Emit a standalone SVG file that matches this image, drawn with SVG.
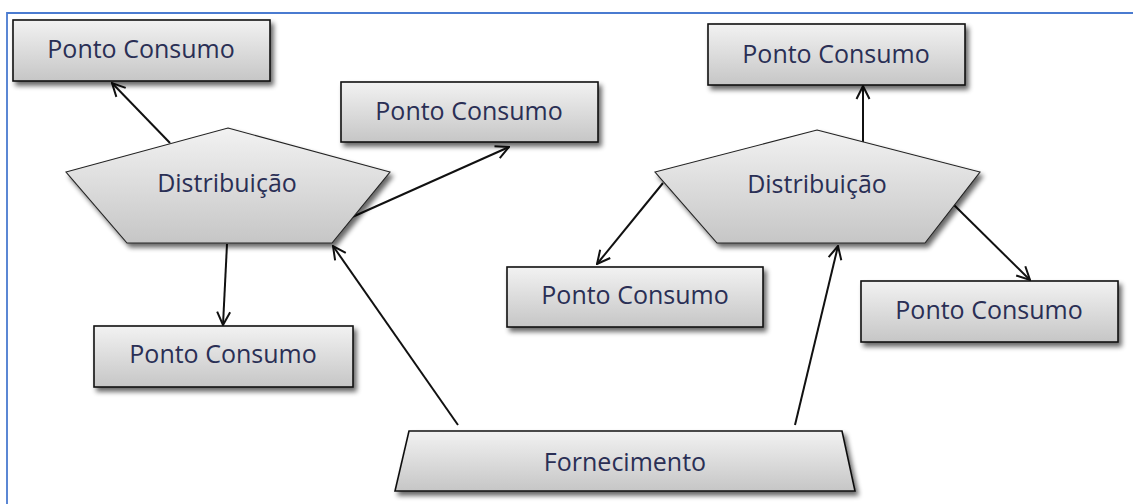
<svg xmlns="http://www.w3.org/2000/svg" width="1133" height="504" viewBox="0 0 1133 504">
<style>
.shape{fill:url(#g);stroke:#111;stroke-width:1.6;filter:url(#sh)}
.pent{fill:url(#g);stroke:#222;stroke-width:1.1;filter:url(#sh)}
.lbl{font-family:"Open Sans","Noto Sans",sans-serif;font-size:25px;fill:#2a2f55;text-anchor:middle}
.con{stroke:#111;stroke-width:2;fill:none;marker-end:url(#ah)}
</style>
<defs>
<linearGradient id="g" x1="0" y1="0" x2="0" y2="1">
<stop offset="0" stop-color="#f2f2f2"/>
<stop offset="1" stop-color="#c6c6c6"/>
</linearGradient>
<filter id="sh" x="-10%" y="-20%" width="130%" height="160%">
<feGaussianBlur in="SourceAlpha" stdDeviation="2.5"/>
<feOffset dx="3" dy="4" result="b"/>
<feComponentTransfer><feFuncA type="linear" slope="0.6"/></feComponentTransfer>
<feMerge><feMergeNode/><feMergeNode in="SourceGraphic"/></feMerge>
</filter>
<marker id="ah" viewBox="0 0 16 16" refX="15" refY="8" markerWidth="16" markerHeight="16" markerUnits="userSpaceOnUse" orient="auto">
<path d="M2,1.5 L15,8 L2,14.5" fill="none" stroke="#111" stroke-width="2"/>
</marker>
</defs>
<rect width="1133" height="504" fill="#fff"/>
<path d="M7,504 V13 H1133" fill="none" stroke="#4a7bd0" stroke-width="1.8"/>
<g id="connectors">
<line class="con" x1="170" y1="143" x2="112" y2="83"/>
<line class="con" x1="350" y1="218" x2="509" y2="147"/>
<line class="con" x1="227" y1="244" x2="223" y2="325"/>
<line class="con" x1="458" y1="425" x2="333" y2="246"/>
<line class="con" x1="863" y1="143" x2="863" y2="86"/>
<line class="con" x1="663" y1="183" x2="597" y2="264"/>
<line class="con" x1="952" y1="203" x2="1030" y2="280"/>
<line class="con" x1="795" y1="425" x2="838" y2="246"/>
</g>
<g id="pc1"><rect class="shape" x="13" y="20" width="257" height="61"/><text class="lbl" x="141" y="58">Ponto Consumo</text></g>
<g id="pc2"><rect class="shape" x="341" y="82" width="257" height="60"/><text class="lbl" x="469" y="120">Ponto Consumo</text></g>
<g id="pc3"><rect class="shape" x="708" y="24" width="257" height="61"/><text class="lbl" x="836" y="63">Ponto Consumo</text></g>
<g id="pc4"><rect class="shape" x="94" y="326" width="259" height="61"/><text class="lbl" x="223" y="363">Ponto Consumo</text></g>
<g id="pc5"><rect class="shape" x="507" y="267" width="256" height="60"/><text class="lbl" x="635" y="304">Ponto Consumo</text></g>
<g id="pc6"><rect class="shape" x="861" y="281" width="257" height="61"/><text class="lbl" x="989" y="319">Ponto Consumo</text></g>
<g id="dist1"><polygon class="pent" points="228,128 390,172 332,243 127,243 66,172"/><text class="lbl" x="227" y="192">Distribuição</text></g>
<g id="dist2"><polygon class="pent" points="817,130 980,172 925,243 717,243 655,172"/><text class="lbl" x="817" y="193">Distribuição</text></g>
<g id="forn"><polygon class="shape" points="409,431 842,431 855,491 395,491"/><text class="lbl" x="625" y="471">Fornecimento</text></g>
</svg>
